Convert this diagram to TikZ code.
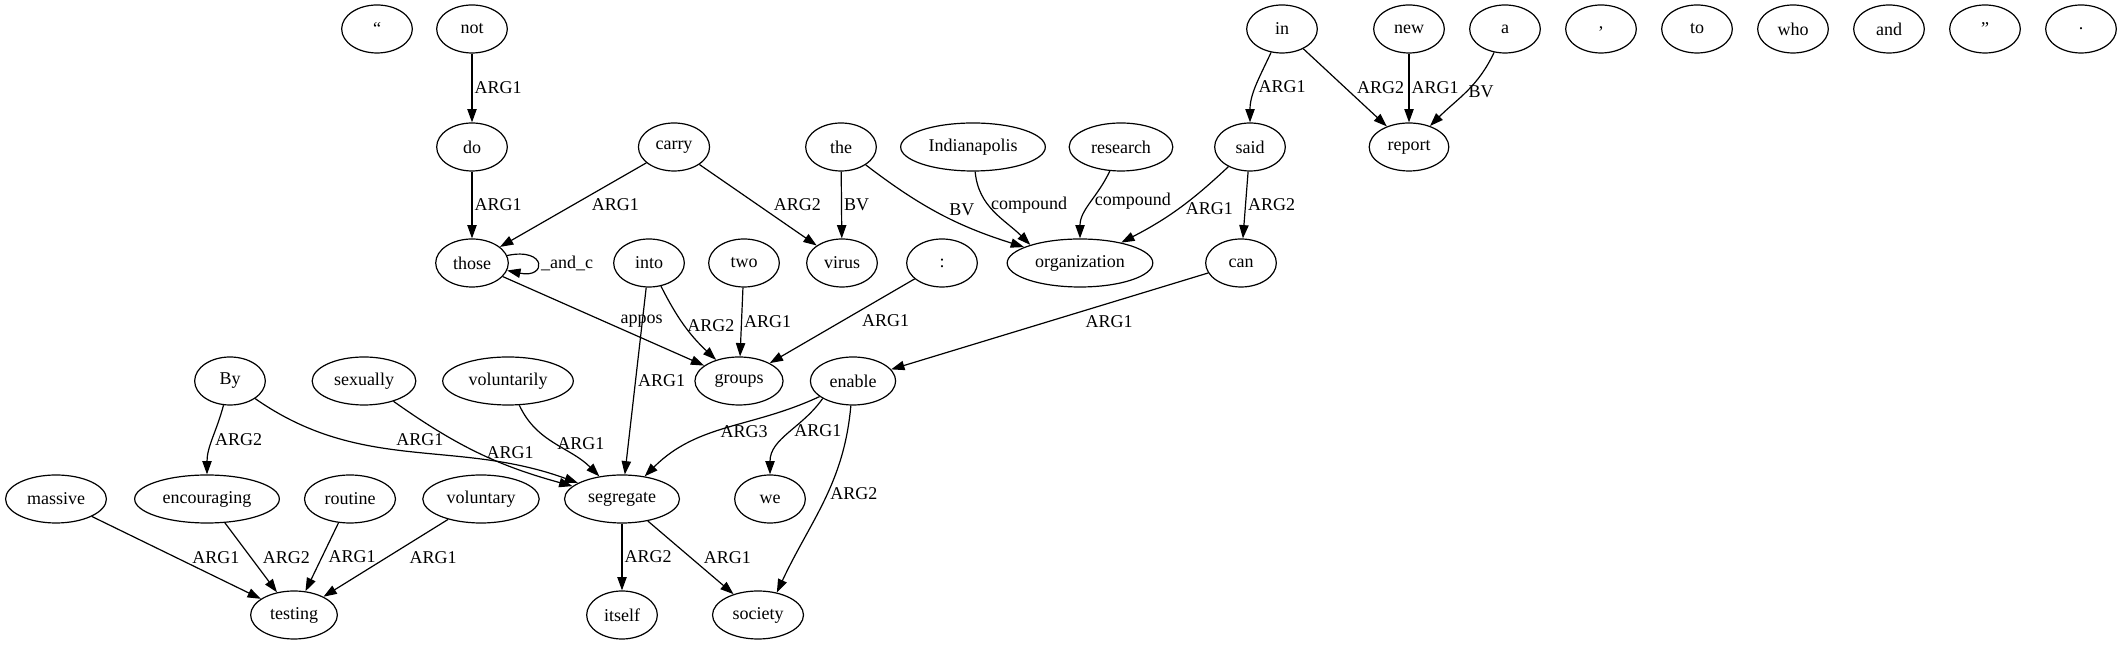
\documentclass[tikz,border=0pt]{standalone}
\usepackage{fontspec}
\setmainfont{Liberation Serif}
\usetikzlibrary{shapes.geometric,arrows.meta}

\begin{document}
\begin{tikzpicture}[
    x=0.75pt, y=0.75pt,
    tok/.style={ellipse, draw, line width=0.9pt, minimum width=53pt, minimum height=36pt, inner xsep=5pt, font=\fontsize{13.5}{16}\selectfont},
    lab/.style={inner sep=1.5pt, font=\fontsize{13.5}{16}\selectfont},
    arrow/.style={->, >={Triangle[length=10pt, width=7pt]}, line width=0.9pt}
]
    \useasboundingbox (0,0) rectangle (2123,645);
    % top row
    \node[tok] (lquote) at (377,616) {“};
    \node[tok] (not) at (472,616) {not};
    \node[tok] (in) at (1282,616) {in};
    \node[tok] (new) at (1409,616) {new};
    \node[tok] (a) at (1505,616) {a};
    \node[tok] (comma) at (1601,616) {,};
    \node[tok] (to) at (1697,616) {to};
    \node[tok] (who) at (1793,616) {who};
    \node[tok] (and) at (1889,616) {and};
    \node[tok] (rquote) at (1985,616) {”};
    \node[tok] (period) at (2081,616) {.};
    % second row
    \node[tok] (do) at (472,498) {do};
    \node[tok] (carry) at (674,498) {carry};
    \node[tok] (the) at (841,498) {the};
    \node[tok] (indianapolis) at (973,498) {Indianapolis};
    \node[tok] (research) at (1121,498) {research};
    \node[tok] (said) at (1250,498) {said};
    \node[tok] (report) at (1409,498) {report};
    % third row
    \node[tok] (those) at (472,382) {those};
    \node[tok] (into) at (649,382) {into};
    \node[tok] (two) at (744,382) {two};
    \node[tok] (virus) at (842,382) {virus};
    \node[tok] (colon) at (942,382) {:};
    \node[tok] (organization) at (1080,382) {organization};
    \node[tok] (can) at (1241,382) {can};
    % fourth row
    \node[tok] (by) at (230,264) {By};
    \node[tok] (sexually) at (364,264) {sexually};
    \node[tok] (voluntarily) at (508,264) {voluntarily};
    \node[tok] (groups) at (739,264) {groups};
    \node[tok] (enable) at (853,264) {enable};
    % fifth row
    \node[tok] (massive) at (56,146) {massive};
    \node[tok] (encouraging) at (207,146) {encouraging};
    \node[tok] (routine) at (350,146) {routine};
    \node[tok] (voluntary) at (481,146) {voluntary};
    \node[tok] (segregate) at (622,146) {segregate};
    \node[tok] (we) at (770,146) {we};
    % bottom row
    \node[tok] (testing) at (294,30) {testing};
    \node[tok] (itself) at (622,30) {itself};
    \node[tok] (society) at (758,30) {society};

    % edges
    \draw[arrow] (not) -- node[lab, right] {ARG1} (do);
    \draw[arrow] (do) -- node[lab, right] {ARG1} (those);
    \draw[arrow] (carry) -- node[lab, right=12pt] {ARG1} (those);
    \draw[arrow] (carry) -- node[lab, right=10pt] {ARG2} (virus);
    \draw[arrow] (those) to[out=12, in=-12, looseness=7] node[lab, right=1pt] {\_and\_c} (those);
    \draw[arrow] (those) -- node[lab, right=11pt] {appos} (groups);
    \draw[arrow] (into) to[bend right=10] node[lab, right] {ARG2} (groups);
    \draw[arrow] (into) -- node[lab, right] {ARG1} (segregate);
    \draw[arrow] (two) -- node[lab, right] {ARG1} (groups);
    \draw[arrow] (colon) -- node[lab, right=13pt] {ARG1} (groups);
    \draw[arrow] (the) -- node[lab, right] {BV} (virus);
    \draw[arrow] (the) to[bend right=10] node[lab, pos=0.45, right=10pt] {BV} (organization);
    \draw[arrow] (indianapolis) to[out=-85, in=135] node[lab, pos=0.4, right] {compound} (organization.160);
    \draw[arrow] (research) to[out=-115, in=90] node[lab, pos=0.45, right] {compound} (organization);
    \draw[arrow] (said) to[bend left=8] node[lab, right=4pt] {ARG1} (organization);
    \draw[arrow] (said) -- node[lab, right] {ARG2} (can);
    \draw[arrow] (in) to[out=-115, in=90] node[lab, right] {ARG1} (said);
    \draw[arrow] (in) -- node[lab, right=7pt] {ARG2} (report);
    \draw[arrow] (new) -- node[lab, right] {ARG1} (report);
    \draw[arrow] (a) to[out=-115, in=45] node[lab, right] {BV} (report);
    \draw[arrow] (can) -- node[lab, right=25pt] {ARG1} (enable);
    \draw[arrow] (by) to[out=-105, in=90] node[lab, right] {ARG2} (encouraging);
    \draw[arrow] (by) to[out=-35, in=160] node[lab, pos=0.42, anchor=south west, xshift=6pt] {ARG1} (segregate);
    \draw[arrow] (sexually) to[bend right=10] node[lab, right=4pt] {ARG1} (segregate);
    \draw[arrow] (voluntarily) to[out=-65, in=135] node[lab, right] {ARG1} (segregate);
    \draw[arrow] (enable) to[out=-155, in=45] node[lab, pos=0.55, right] {ARG3} (segregate);
    \draw[arrow] (enable.-150) to[out=-125, in=90] node[lab, pos=0.45, right] {ARG1} (we);
    \draw[arrow] (enable) to[out=-95, in=65] node[lab, pos=0.45, right] {ARG2} (society.50);
    \draw[arrow] (massive) -- node[lab, right=10pt] {ARG1} (testing);
    \draw[arrow] (encouraging) -- node[lab, right=7pt] {ARG2} (testing);
    \draw[arrow] (routine) -- node[lab, right=3pt] {ARG1} (testing);
    \draw[arrow] (voluntary) -- node[lab, right=16pt] {ARG1} (testing);
    \draw[arrow] (segregate) -- node[lab, right] {ARG2} (itself);
    \draw[arrow] (segregate) -- node[lab, right=8pt] {ARG1} (society);
\end{tikzpicture}
\end{document}
